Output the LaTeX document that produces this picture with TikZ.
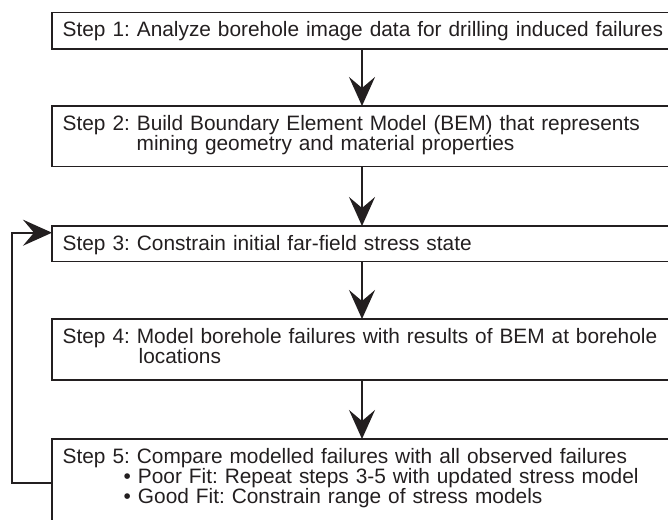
\documentclass[tikz,border=0pt]{standalone}
\usepackage{fontspec}
\setmainfont{Liberation Sans}
\usepackage{tikz}
\usetikzlibrary{arrows.meta}
\definecolor{ink}{RGB}{35,31,32}
\frenchspacing
\tikzset{stepbox/.style={draw=ink, text=ink, line width=1.3pt, anchor=north west, outer sep=0pt,
    text width=640pt, align=left, inner xsep=10.7pt, inner ysep=0pt, text height=24pt,
    font=\fontsize{20.85}{17.5}\selectfont}}
\tikzset{flow/.style={draw=ink, line width=2pt, -{Stealth[length=29pt,width=26pt,inset=11pt]}}}

\begin{document}
\begin{tikzpicture}[x=1pt, y=1pt]
        \useasboundingbox (0,0) rectangle (668,-519);
          \node [stepbox, text depth=12.3pt] (S1) at (52,-12.7)
            {Step 1: Analyze borehole image data for drilling induced failures};
          \node [stepbox, text depth=36.7pt] (S2) at (52,-106)
            {Step 2: Build Boundary Element Model (BEM) that represents\\
             \hspace*{74pt}mining geometry and material properties};
          \node [stepbox, text depth=11.7pt] (S3) at (52,-226)
            {Step 3: Constrain initial far-field stress state};
          \node [stepbox, text depth=37pt] (S4) at (52,-319)
            {Step 4: Model borehole failures with results of BEM at borehole\\
             \hspace*{76pt}locations};
          \node [stepbox, text depth=100pt] (S5) at (52,-439)
            {Step 5: Compare modelled failures with all observed failures\\
             \hspace*{61pt}• Poor Fit: Repeat steps 3-5 with updated stress model\\
             \hspace*{61pt}• Good Fit: Constrain range of stress models};
          % arrows down the middle
          \coordinate (axis) at (362,0);
          \foreach \a/\b in {S1/S2, S2/S3, S3/S4, S4/S5}
            \draw [flow] (\a.south -| axis) -- (\b.north -| axis);
          % loop back from step 5 to step 3
          \coordinate (loopA) at (12.3,-482.7);
          \coordinate (loopB) at (12.3,-232.7);
          \draw [flow] (S5.west |- loopA) -- (loopA) -- (loopB) -- (S3.west |- loopB);
\end{tikzpicture}
\end{document}
